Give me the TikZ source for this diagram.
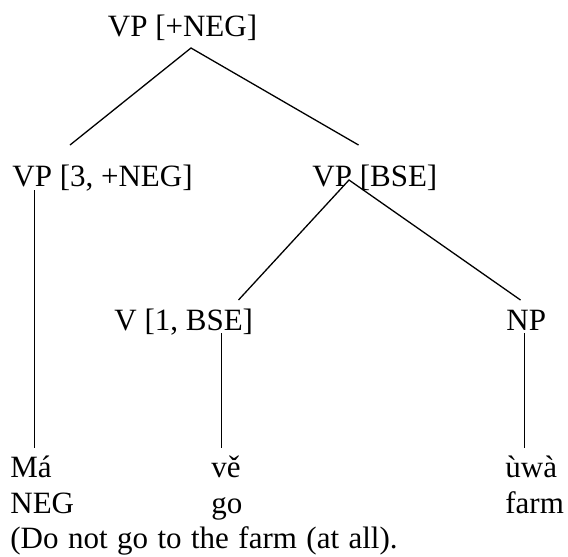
\documentclass[tikz,border=0pt]{standalone}
\usepackage{fontspec}
\setmainfont{Liberation Serif}
\begin{document}
\begin{tikzpicture}[x=0.5pt,y=-0.5pt,
  lbl/.style={inner sep=0pt, anchor=base west, font=\fontsize{15.5}{18}\selectfont},
  branch/.style={line width=0.65pt}]
\useasboundingbox (0,0) rectangle (568,557);

% category labels
\node[lbl] (vpneg)  at (107.5,36) {VP [+NEG]};
\node[lbl] (vp3)    at (12,186)   {VP [3, +NEG]};
\node[lbl] (vpbse)  at (312,186)  {VP [BSE]};
\node[lbl] (v1)     at (114,330)  {V [1, BSE]};
\node[lbl] (np)     at (506,330)  {NP};

% words and glosses
\node[lbl] (ma)   at (10,477)  {Má};
\node[lbl] (neg)  at (10,513)  {NEG};
\node[lbl] (ve)   at (211,477) {vě};
\node[lbl] (go)   at (211,513) {go};
\node[lbl] (uwa)  at (505,477) {ùwà};
\node[lbl] (farm) at (505,513) {farm};
\node[lbl] (tr)   at (10,548)
  {\spaceskip=\dimexpr 0.25em+0.85pt\relax (Do not go to the farm (at all).};

% branch end points
\coordinate (vpneg-b) at (191,48);
\coordinate (vp3-t)   at (70,145);
\coordinate (vpbse-t) at (358.5,145);
\coordinate (vp3-b)   at (34.5,190);
\coordinate (vpbse-b) at (349,180);
\coordinate (v1-t)    at (238.5,300);
\coordinate (np-t)    at (520.5,300);
\coordinate (v1-b)    at (221.5,333);
\coordinate (np-b)    at (524.5,333);
\coordinate (ma-t)    at (34.5,448);
\coordinate (ve-t)    at (221.5,448);
\coordinate (uwa-t)   at (524.5,448);

% branches
\draw[branch] (vp3-t) -- (vpneg-b) -- (vpbse-t);
\draw[branch] (v1-t) -- (vpbse-b) -- (np-t);
\draw[branch] (vp3-b) -- (ma-t);
\draw[branch] (v1-b) -- (ve-t);
\draw[branch] (np-b) -- (uwa-t);
\end{tikzpicture}
\end{document}
